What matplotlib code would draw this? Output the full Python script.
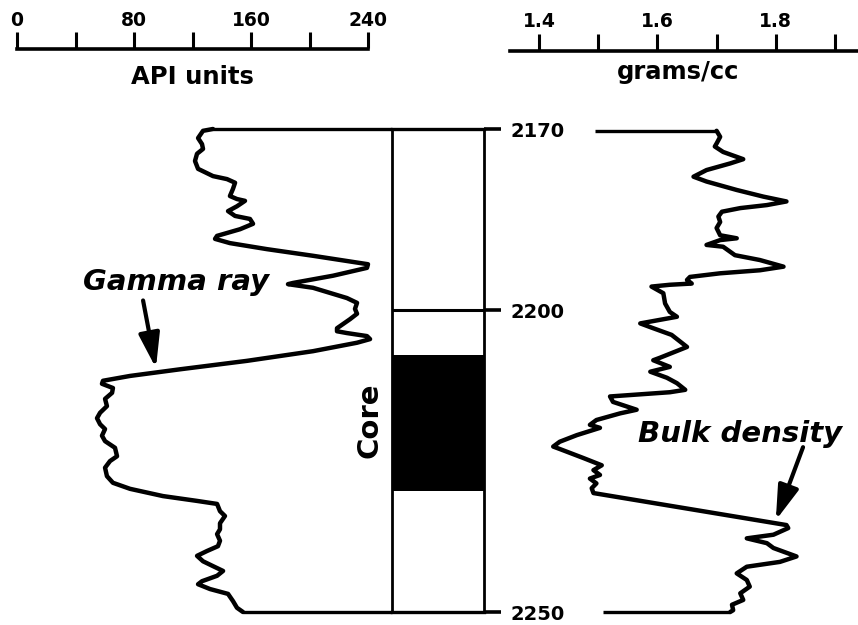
import matplotlib
matplotlib.use("Agg")
import matplotlib.pyplot as plt

# ---------------- data ----------------
gamma_depth = [2170.0, 2170.3, 2171.5, 2172.5, 2173.3, 2174.1, 2175.3, 2176.6, 2177.8, 2178.3,
               2178.9, 2179.9, 2181.1, 2181.6, 2181.9, 2182.8, 2183.6, 2184.4, 2184.9, 2185.7,
               2186.6, 2187.7, 2188.2, 2188.9, 2189.9, 2191.0, 2192.4, 2193.0, 2194.3, 2195.5,
               2195.7, 2196.3, 2198.0, 2198.8, 2199.8, 2200.6, 2201.5, 2203.0, 2203.5, 2203.8,
               2204.3, 2204.8, 2205.4, 2206.8, 2208.4, 2209.8, 2210.9, 2211.7, 2212.2, 2212.9,
               2213.7, 2214.7, 2215.9, 2217.0, 2217.9, 2218.9, 2219.7, 2220.8, 2221.7, 2222.8,
               2224.2, 2225.0, 2226.1, 2227.5, 2228.6, 2229.6, 2230.8, 2231.6, 2232.1, 2233.3,
               2234.1, 2235.3, 2236.3, 2237.1, 2238.2, 2239.1, 2239.9, 2240.7, 2241.6, 2242.4,
               2243.2, 2244.0, 2244.9, 2245.4, 2246.2, 2247.0, 2248.2, 2249.3, 2250.0]
gamma_api = [134.0, 127.2, 123.8, 126.5, 127.2, 123.1, 121.7, 123.8, 134.0, 143.6,
             149.1, 147.7, 145.6, 150.4, 155.9, 150.4, 144.3, 149.1, 159.3, 161.4,
             152.5, 136.8, 135.4, 145.6, 170.9, 202.4, 240.0, 239.3, 216.1, 188.7,
             185.3, 202.4, 225.6, 232.5, 231.1, 232.5, 227.7, 218.8, 218.8, 225.6,
             239.3, 241.4, 232.5, 202.4, 157.3, 111.5, 77.3, 58.8, 58.1, 65.6,
             65.0, 60.2, 61.5, 56.8, 54.7, 56.8, 60.2, 58.1, 60.2, 67.0,
             68.4, 63.6, 60.2, 61.5, 65.6, 77.3, 99.8, 123.1, 136.8, 138.8,
             142.2, 138.8, 138.8, 136.8, 138.8, 137.4, 129.9, 123.1, 127.2, 134.0,
             140.9, 136.8, 126.5, 123.8, 132.0, 144.3, 147.7, 150.4, 154.5]

density_depth = [2170.3, 2171.3, 2172.4, 2172.9, 2173.8, 2175.0, 2175.7, 2176.8, 2177.9, 2178.7,
                 2180.1, 2181.2, 2182.0, 2182.6, 2183.1, 2183.7, 2184.5, 2185.4, 2186.4, 2187.6,
                 2188.1, 2188.4, 2189.2, 2189.5, 2190.9, 2191.7, 2192.8, 2193.4, 2193.9, 2194.5,
                 2195.0, 2195.6, 2195.8, 2196.1, 2197.2, 2198.9, 2200.3, 2201.1, 2202.2, 2203.0,
                 2204.1, 2206.1, 2207.9, 2208.3, 2209.4, 2210.2, 2211.2, 2212.1, 2213.2, 2213.6,
                 2214.3, 2215.2, 2216.5, 2217.1, 2218.2, 2219.0, 2219.5, 2220.7, 2221.8, 2222.6,
                 2223.0, 2224.5, 2225.7, 2226.5, 2227.3, 2227.9, 2228.7, 2229.5, 2230.3, 2235.6,
                 2236.1, 2237.2, 2237.8, 2238.6, 2239.4, 2240.8, 2241.7, 2242.5, 2243.6, 2244.7,
                 2245.8, 2246.9, 2248.0, 2248.8, 2249.7, 2250.0]
density_gcc = [1.700, 1.706, 1.700, 1.697, 1.711, 1.745, 1.723, 1.683, 1.661, 1.683,
               1.734, 1.779, 1.818, 1.785, 1.740, 1.709, 1.703, 1.706, 1.700, 1.706,
               1.734, 1.706, 1.683, 1.711, 1.731, 1.773, 1.813, 1.773, 1.706, 1.655,
               1.650, 1.658, 1.621, 1.590, 1.610, 1.613, 1.621, 1.633, 1.571, 1.593,
               1.624, 1.650, 1.604, 1.593, 1.621, 1.588, 1.616, 1.633, 1.647, 1.621,
               1.520, 1.525, 1.565, 1.537, 1.497, 1.486, 1.503, 1.464, 1.435, 1.424,
               1.435, 1.475, 1.506, 1.492, 1.503, 1.486, 1.497, 1.489, 1.492, 1.818,
               1.821, 1.796, 1.751, 1.785, 1.796, 1.835, 1.807, 1.751, 1.734, 1.751,
               1.756, 1.740, 1.745, 1.726, 1.728, 1.723]

api_ticks = [0, 40, 80, 120, 160, 200, 240]
api_ticklabels = ["0", "", "80", "", "160", "", "240"]
density_ticks = [1.4, 1.5, 1.6, 1.7, 1.8, 1.9]
density_ticklabels = ["1.4", "", "1.6", "", "1.8", ""]
depth_ticks = [2170, 2200, 2250]
depth_ticklabels = ["2170", "2200", "2250"]
depth_range = (2170, 2250)
core_interval = (2207.5, 2230.0)
density_refline_start = (1.495, 1.508)   # left ends of top / bottom reference lines

# ---------------- layout ----------------
W, H, DPI = 858, 625, 100
fig = plt.figure(figsize=(W / DPI, H / DPI), dpi=DPI)
fig.patch.set_facecolor("white")


def box(x0, y0, x1, y1):
    return [x0 / W, 1 - y1 / H, (x1 - x0) / W, (y1 - y0) / H]


TOP, BOT = 129, 612
ax_g = fig.add_axes(box(17, TOP, 368, BOT))
ax_c = fig.add_axes(box(392, TOP, 484, BOT))
ax_d = fig.add_axes(box(539, TOP, 835, BOT))

for ax in (ax_g, ax_c, ax_d):
    ax.set_ylim(depth_range[1], depth_range[0])
    ax.patch.set_visible(False)
ax_g.set_xlim(0, 240)
ax_d.set_xlim(1.4, 1.9)
ax_c.set_xlim(0, 1)
ax_g.axis("off")
ax_d.axis("off")

CURVE_LW = 3.2
REF_LW = 2.4
LABEL_FS = 21

# ---- gamma ray curve ----
ax_g.plot(gamma_api, gamma_depth, color="black", lw=CURVE_LW, clip_on=False,
          solid_joinstyle="round", solid_capstyle="round")
x_core_left = ax_g.transData.inverted().transform(ax_c.transAxes.transform((0, 0)))[0]
ax_g.plot([gamma_api[0], x_core_left], [depth_range[0], depth_range[0]],
          color="black", lw=REF_LW, clip_on=False, solid_capstyle="butt")
ax_g.plot([gamma_api[-1], x_core_left], [depth_range[1], depth_range[1]],
          color="black", lw=REF_LW, clip_on=False, solid_capstyle="butt")

ax_g.text(108.5, 2195.4, "Gamma ray", fontsize=LABEL_FS, fontweight="bold", style="italic",
          ha="center", va="center", clip_on=False)
ax_g.annotate("", xy=(95.0, 2209.6), xytext=(86.2, 2198.4),
              arrowprops=dict(arrowstyle="-|>,head_length=1.05,head_width=0.32",
                              color="black", lw=3, mutation_scale=20,
                              shrinkA=0, shrinkB=0))

# ---- bulk density curve ----
ax_d.plot(density_gcc, density_depth, color="black", lw=CURVE_LW, clip_on=False,
          solid_joinstyle="round", solid_capstyle="round")
ax_d.plot([density_refline_start[0], density_gcc[0]], [density_depth[0], density_depth[0]],
          color="black", lw=REF_LW, clip_on=False, solid_capstyle="butt")
ax_d.plot([density_refline_start[1], density_gcc[-1]], [density_depth[-1], density_depth[-1]],
          color="black", lw=REF_LW, clip_on=False, solid_capstyle="butt")
ax_d.text(1.567, 2220.6, "Bulk density", fontsize=LABEL_FS, fontweight="bold", style="italic",
          ha="left", va="center", clip_on=False)
ax_d.annotate("", xy=(1.800, 2234.8), xytext=(1.846, 2222.7),
              arrowprops=dict(arrowstyle="-|>,head_length=1.05,head_width=0.32",
                              color="black", lw=3, mutation_scale=20,
                              shrinkA=0, shrinkB=0))

# ---- core column with depth axis ----
ax_c.axhspan(core_interval[0], core_interval[1], color="black", lw=0)
ax_c.axhline(2200, color="black", lw=2.2)
ax_c.set_xticks([])
ax_c.spines["left"].set_linewidth(2.0)
ax_c.spines["right"].set_linewidth(2.0)
ax_c.spines["top"].set_linewidth(REF_LW)
ax_c.spines["bottom"].set_linewidth(REF_LW)
ax_c.yaxis.tick_right()
ax_c.set_yticks(depth_ticks, depth_ticklabels, fontsize=14, fontweight="bold")
ax_c.tick_params(axis="y", direction="out", length=12, width=2.6, pad=7,
                 left=False, right=True, labelleft=False, labelright=True)
ax_c.text(-0.24, 2218.2, "Core", rotation=90, fontsize=LABEL_FS, fontweight="bold",
          ha="center", va="center", clip_on=False)

# ---- scale bars at top ----
ax_gs = fig.add_axes(box(17, 47.5, 368, 48.5))
ax_gs.set_xlim(0, 240)
ax_gs.set_ylim(0, 1)
ax_gs.set_yticks([])
ax_gs.patch.set_visible(False)
for s in ("top", "left", "right"):
    ax_gs.spines[s].set_visible(False)
ax_gs.spines["bottom"].set_linewidth(2.6)
ax_gs.xaxis.set_ticks_position("top")
ax_gs.set_xticks(api_ticks, api_ticklabels, fontsize=13.5, fontweight="bold")
ax_gs.tick_params(axis="x", direction="out", length=11.5, width=2.2, pad=1,
                  top=True, bottom=False, labeltop=True, labelbottom=False)
fig.text(192.5 / W, 1 - 77 / H, "API units", fontsize=17.5, fontweight="bold",
         ha="center", va="center")

px_per_unit = (835 - 539) / (1.9 - 1.4)
ax_ds = fig.add_axes(box(510, 49.5, 858, 50.5))
ax_ds.set_xlim(1.4 - (539 - 510) / px_per_unit, 1.9 + (858 - 835) / px_per_unit)
ax_ds.set_ylim(0, 1)
ax_ds.set_yticks([])
ax_ds.patch.set_visible(False)
for s in ("top", "left", "right"):
    ax_ds.spines[s].set_visible(False)
ax_ds.spines["bottom"].set_linewidth(2.6)
ax_ds.xaxis.set_ticks_position("top")
ax_ds.set_xticks(density_ticks, density_ticklabels, fontsize=13.5, fontweight="bold")
ax_ds.tick_params(axis="x", direction="out", length=11.5, width=2.2, pad=1.5,
                  top=True, bottom=False, labeltop=True, labelbottom=False)
fig.text(678 / W, 1 - 72 / H, "grams/cc", fontsize=17.5, fontweight="bold",
         ha="center", va="center")

fig.savefig("out.png", dpi=DPI, facecolor="white")
